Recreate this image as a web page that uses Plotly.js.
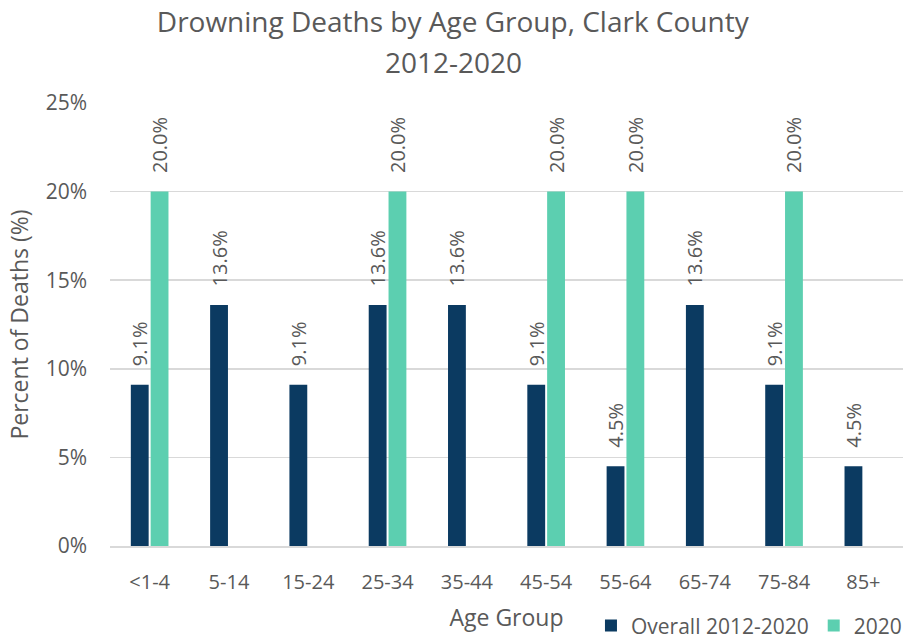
<!DOCTYPE html>
<html>
<head>
<meta charset="utf-8">
<script src="https://cdn.plot.ly/plotly-3.0.1.min.js"></script>
<style>html,body{margin:0;padding:0;background:#fff;}#chart{width:911px;height:641px;}</style>
</head>
<body>
<div id="chart"></div>
<script>
const categories = ["<1-4","5-14","15-24","25-34","35-44","45-54","55-64","65-74","75-84","85+"];
const overall = [9.1, 13.6, 9.1, 13.6, 13.6, 9.1, 4.5, 13.6, 9.1, 4.5];
const y2020 = [20.0, null, null, 20.0, null, 20.0, 20.0, null, 20.0, null];
const seriesNames = ["Overall 2012-2020", "2020"];
const yTicks = [0, 5, 10, 15, 20, 25];
const yTickText = ["0%","5%","10%","15%","20%","25%"];
const titleLine1 = "Drowning Deaths by Age Group, Clark County";
const titleLine2 = "2012-2020";

const FONT = "Open Sans, sans-serif";
const GREY = "#595959";
const pad = "\u00a0\u00a0\u00a0";
function labels(arr){ return arr.map(v => v === null ? "" : pad + v.toFixed(1) + "%"); }

const traces = [
  {type:"bar", name:seriesNames[0], x:categories, y:overall, marker:{color:"#0b3a61"},
   text:labels(overall), textposition:"outside", textangle:-90, cliponaxis:false, constraintext:"none",
   textfont:{family:FONT, size:20, color:GREY}, hoverinfo:"x+y"},
  {type:"bar", name:seriesNames[1], x:categories, y:y2020, marker:{color:"#5ccfb0"},
   text:labels(y2020), textposition:"outside", textangle:-90, cliponaxis:false, constraintext:"none",
   textfont:{family:FONT, size:20, color:GREY}, hoverinfo:"x+y"}
];

const layout = {
  width:911, height:641,
  margin:{l:110, r:8, t:103, b:95, autoexpand:false},
  paper_bgcolor:"#fff", plot_bgcolor:"#fff",
  font:{family:FONT, color:GREY},
  title:{text:titleLine1, x:0.497, xanchor:"center", yref:"container", y:1-22/641, yanchor:"middle",
         font:{family:FONT, size:28, color:GREY}},
  annotations:[{text:titleLine2, xref:"paper", yref:"paper", x:(453-110)/793, y:(546-62)/443, xanchor:"center", yanchor:"middle",
         showarrow:false, font:{family:FONT, size:28, color:GREY}}],
  barmode:"group", bargap:0.5, bargroupgap:0.1,
  xaxis:{type:"category", tickfont:{family:FONT, size:20, color:GREY}, showline:true, linecolor:"#d9d9d9", linewidth:1.5,
         ticks:"", ticklabelstandoff:17, automargin:false,
         title:{text:"Age Group", font:{family:FONT, size:23, color:GREY}, standoff:16}},
  yaxis:{range:[0,25], tickvals:yTicks, ticktext:yTickText, tickfont:{family:FONT, size:21, color:GREY},
         showgrid:true, gridcolor:"#d9d9d9", gridwidth:1.5, zeroline:false, ticks:"", ticklabelstandoff:22, automargin:false,
         title:{text:"Percent of Deaths (%)", font:{family:FONT, size:23, color:GREY}, standoff:10}},
  showlegend:true,
  legend:{orientation:"h", x:1.005, xanchor:"right", y:-0.18, yanchor:"middle",
          font:{family:FONT, size:21, color:GREY}, itemwidth:30, traceorder:"normal"}
};

Plotly.newPlot("chart", traces, layout, {displayModeBar:false, staticPlot:true});
</script>
</body>
</html>
